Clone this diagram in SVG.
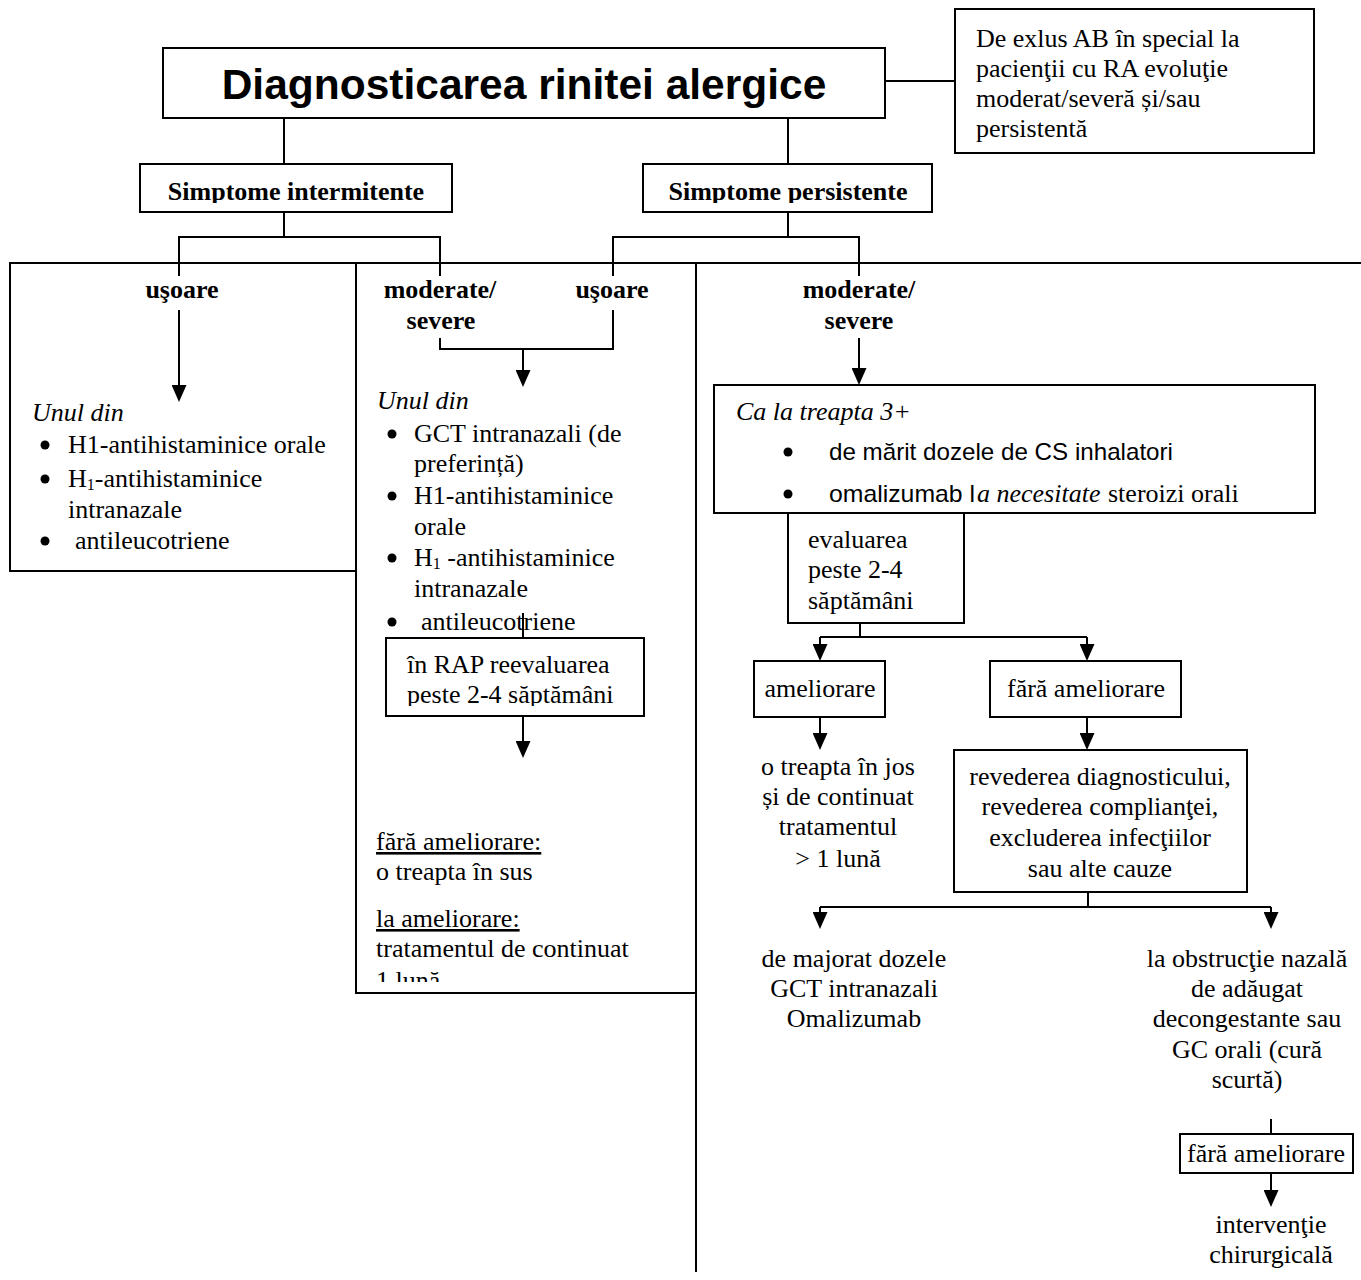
<svg xmlns="http://www.w3.org/2000/svg" width="1361" height="1280" viewBox="0 0 1361 1280">
<style>
.bx{fill:#fff;stroke:#000;stroke-width:2}
.ln{fill:none;stroke:#000;stroke-width:2}
.ar{fill:none;stroke:#000;stroke-width:2;marker-end:url(#ah)}
.t{font-family:"Liberation Serif","Times New Roman",serif;font-size:26px;fill:#000}
.b{font-weight:bold}
.i{font-style:italic}
.c{text-anchor:middle}
.u{text-decoration:underline}
.s{font-family:"Liberation Sans",Arial,sans-serif;font-size:24px;fill:#000}
.dot{fill:#000}
</style>
<defs>
<marker id="ah" viewBox="0 0 10 10" refX="5.3" refY="5" markerWidth="17" markerHeight="15" markerUnits="userSpaceOnUse" orient="auto" preserveAspectRatio="none">
<path d="M0,0 L10,5 L0,10 z" fill="#000"/>
</marker>
<clipPath id="cS"><rect x="0" y="160" width="1361" height="43"/></clipPath>
<clipPath id="cR"><rect x="386" y="638" width="258" height="68"/></clipPath>
<clipPath id="cL"><rect x="356" y="940" width="340" height="42"/></clipPath>
</defs>

<g id="connectors">
<path class="ln" d="M885,81 H955"/>
<path class="ln" d="M284,118 V164 M788,118 V164"/>
<path class="ln" d="M284,212 V237 M179,276 V237 H440 V276"/>
<path class="ln" d="M788,212 V237 M613,276 V237 H859 V276"/>
<path class="ln" d="M10,263 H1361"/>
<path class="ln" d="M356,263 V993 H696 M696,263 V1272"/>
<path class="ar" d="M179,310 V394"/>
<path class="ln" d="M440,338 V349 H613 V310"/>
<path class="ar" d="M523,349 V379"/>
<path class="ln" d="M523,613 V638"/>
<path class="ar" d="M523,716 V750"/>
<path class="ar" d="M859,338 V377"/>
<path class="ln" d="M860,623 V637 M820,637 H1087"/>
<path class="ar" d="M820,637 V653"/>
<path class="ar" d="M1087,637 V653"/>
<path class="ar" d="M820,717 V742"/>
<path class="ar" d="M1087,717 V742"/>
<path class="ln" d="M1088,892 V907 M820,907 H1271"/>
<path class="ar" d="M820,907 V921"/>
<path class="ar" d="M1271,907 V921"/>
<path class="ln" d="M1271,1119 V1134"/>
<path class="ar" d="M1271,1173 V1199"/>
</g>

<g id="title">
<rect class="bx" x="163" y="48" width="722" height="70"/>
<text x="524" y="99" text-anchor="middle" style="font-family:'Liberation Sans',Arial,sans-serif;font-weight:bold;font-size:42.5px">Diagnosticarea rinitei alergice</text>
</g>

<g id="note">
<rect class="bx" x="955" y="9" width="359" height="144"/>
<text class="t" x="976" y="47">De exlus AB în special la</text>
<text class="t" x="976" y="77">pacienţii cu RA evoluţie</text>
<text class="t" x="976" y="107">moderat/severă și/sau</text>
<text class="t" x="976" y="137">persistentă</text>
</g>

<g id="simptome-intermitente">
<rect class="bx" x="140" y="164" width="312" height="48"/>
<text class="t b c" x="296" y="200" clip-path="url(#cS)">Simptome intermitente</text>
</g>

<g id="simptome-persistente">
<rect class="bx" x="643" y="164" width="289" height="48"/>
<text class="t b c" x="788" y="200" clip-path="url(#cS)">Simptome persistente</text>
</g>

<g id="labels">
<text class="t b c" x="182" y="298">uşoare</text>
<text class="t b c" x="440" y="298">moderate/</text>
<text class="t b c" x="441" y="329">severe</text>
<text class="t b c" x="612" y="298">uşoare</text>
<text class="t b c" x="859" y="298">moderate/</text>
<text class="t b c" x="859" y="329">severe</text>
</g>

<g id="left-box">
<rect class="ln" x="10" y="263" width="346" height="308"/>
<text class="t i" x="32" y="421">Unul din</text>
<circle class="dot" cx="45" cy="445" r="4.5"/>
<text class="t" x="68" y="453">H1-antihistaminice orale</text>
<circle class="dot" cx="45" cy="479" r="4.5"/>
<text class="t" x="68" y="487">H<tspan font-size="16" dy="3">1</tspan><tspan dy="-3">-antihistaminice</tspan></text>
<text class="t" x="68" y="518">intranazale</text>
<circle class="dot" cx="45" cy="541" r="4.5"/>
<text class="t" x="75" y="549">antileucotriene</text>
</g>

<g id="middle-box">
<text class="t i" x="377" y="409">Unul din</text>
<circle class="dot" cx="392" cy="434" r="4.5"/>
<text class="t" x="414" y="442">GCT intranazali (de</text>
<text class="t" x="414" y="472">preferință)</text>
<circle class="dot" cx="392" cy="496" r="4.5"/>
<text class="t" x="414" y="504">H1-antihistaminice</text>
<text class="t" x="414" y="535">orale</text>
<circle class="dot" cx="392" cy="558" r="4.5"/>
<text class="t" x="414" y="566">H<tspan font-size="16" dy="3">1</tspan><tspan dy="-3"> -antihistaminice</tspan></text>
<text class="t" x="414" y="597">intranazale</text>
<circle class="dot" cx="392" cy="622" r="4.5"/>
<text class="t" x="421" y="630">antileucotriene</text>
<text class="t u" x="376" y="850">fără ameliorare:</text>
<text class="t" x="376" y="880">o treapta în sus</text>
<text class="t u" x="376" y="927">la ameliorare:</text>
<text class="t" x="376" y="957">tratamentul de continuat</text>
<text class="t" x="376" y="989" clip-path="url(#cL)">1 lună</text>
</g>

<g id="rap-box">
<rect class="bx" x="386" y="638" width="258" height="78"/>
<text class="t" x="407" y="673">în RAP reevaluarea</text>
<text class="t" x="407" y="703" clip-path="url(#cR)">peste 2-4 săptămâni</text>
</g>

<g id="treapta-box">
<rect class="bx" x="714" y="385" width="601" height="128"/>
<text class="t i" x="736" y="420">Ca la treapta 3+</text>
<circle class="dot" cx="788" cy="452" r="4.5"/>
<text class="s" x="829" y="460" textLength="344" lengthAdjust="spacingAndGlyphs">de mărit dozele de CS inhalatori</text>
<circle class="dot" cx="788" cy="494" r="4.5"/>
<text class="s" x="829" y="502" textLength="146" lengthAdjust="spacingAndGlyphs">omalizumab l</text>
<text class="t i" x="977" y="502">a necesitate</text>
<text class="t" x="1108" y="502">steroizi orali</text>
</g>

<g id="evaluarea-box">
<rect class="bx" x="788" y="513" width="176" height="110"/>
<text class="t" x="808" y="548">evaluarea</text>
<text class="t" x="808" y="578">peste 2-4</text>
<text class="t" x="808" y="609">săptămâni</text>
</g>

<g id="ameliorare-box">
<rect class="bx" x="754" y="661" width="131" height="56"/>
<text class="t c" x="820" y="697">ameliorare</text>
</g>

<g id="fara-ameliorare-box">
<rect class="bx" x="990" y="661" width="191" height="56"/>
<text class="t c" x="1086" y="697">fără ameliorare</text>
</g>

<g id="treapta-jos">
<text class="t c" x="838" y="775">o treapta în jos</text>
<text class="t c" x="838" y="805">și de continuat</text>
<text class="t c" x="838" y="835">tratamentul</text>
<text class="t c" x="838" y="867">&gt; 1 lună</text>
</g>

<g id="revederea-box">
<rect class="bx" x="954" y="750" width="293" height="142"/>
<text class="t c" x="1100" y="785">revederea diagnosticului,</text>
<text class="t c" x="1100" y="815">revederea complianţei,</text>
<text class="t c" x="1100" y="846">excluderea infecţiilor</text>
<text class="t c" x="1100" y="877">sau alte cauze</text>
</g>

<g id="majorat">
<text class="t c" x="854" y="967">de majorat dozele</text>
<text class="t c" x="854" y="997">GCT intranazali</text>
<text class="t c" x="854" y="1027">Omalizumab</text>
</g>

<g id="obstructie">
<text class="t c" x="1247" y="967">la obstrucţie nazală</text>
<text class="t c" x="1247" y="997">de adăugat</text>
<text class="t c" x="1247" y="1027">decongestante sau</text>
<text class="t c" x="1247" y="1058">GC orali (cură</text>
<text class="t c" x="1247" y="1088">scurtă)</text>
</g>

<g id="fara-ameliorare-2">
<rect class="bx" x="1180" y="1134" width="173" height="39"/>
<text class="t c" x="1266" y="1162">fără ameliorare</text>
</g>

<g id="interventie">
<text class="t c" x="1271" y="1233">intervenţie</text>
<text class="t c" x="1271" y="1263">chirurgicală</text>
</g>
</svg>
